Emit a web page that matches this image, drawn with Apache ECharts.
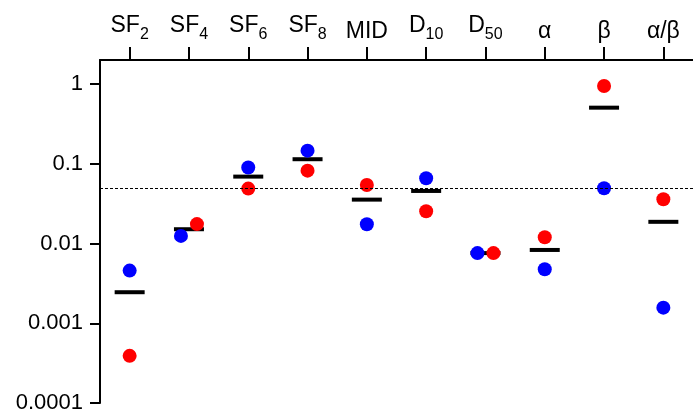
<!DOCTYPE html>
<html>
<head>
<meta charset="utf-8">
<script src="https://cdn.jsdelivr.net/npm/echarts@6/dist/echarts.min.js"></script>
<style>
  html, body { margin: 0; padding: 0; background: #fff; overflow: hidden; }
  #chart { width: 693px; height: 414px; }
</style>
</head>
<body>
<div id="chart"></div>
<script>
// parameter names: main text + subscript
var labelMain = ['SF', 'SF', 'SF', 'SF', 'MID', 'D', 'D', 'α', 'β', 'α/β'];
var labelSub = ['2', '4', '6', '8', '', '10', '50', '', '', ''];
var categories = ['SF2', 'SF4', 'SF6', 'SF8', 'MID', 'D10', 'D50', 'α', 'β', 'α/β'];

// p-values
var redValues = [0.00039, 0.0175, 0.0488, 0.082, 0.0542, 0.0254, 0.00758, 0.012, 0.944, 0.0359];
var blueValues = [0.00457, 0.01245, 0.0899, 0.146, 0.01745, 0.0658, 0.00758, 0.00476, 0.0493, 0.00157];
var meanValues = [0.00245, 0.0151, 0.069, 0.114, 0.0355, 0.0456, 0.00758, 0.0083, 0.505, 0.0187];

var threshold = 0.05;
var yTicks = [0.0001, 0.001, 0.01, 0.1, 1];
var yTickLabels = ['0.0001', '0.001', '0.01', '0.1', '1'];

var font = '"Liberation Sans", Arial, sans-serif';

// push red/blue apart sideways when the two dots would overlap
function tooClose(i) {
    return Math.abs(Math.log10(redValues[i]) - Math.log10(blueValues[i])) < 0.2;
}

var redData = redValues.map(function (v, i) {
    return { value: [categories[i], v], symbolOffset: tooClose(i) ? [8, 0] : [0, 0] };
});
var blueData = blueValues.map(function (v, i) {
    return { value: [categories[i], v], symbolOffset: tooClose(i) ? [-8, 0] : [0, 0] };
});
var meanData = meanValues.map(function (v, i) { return [categories[i], v]; });

var myChart = echarts.init(document.getElementById('chart'), null, { renderer: 'canvas' });
var option = {
    animation: false,
    grid: { left: 100, right: -7, top: 60, bottom: 11 },
    xAxis: {
        type: 'category',
        position: 'top',
        data: categories,
        boundaryGap: true,
        axisLine: { show: true, lineStyle: { color: '#000', width: 2 } },
        axisTick: { show: true, inside: false, interval: 0, alignWithLabel: true, length: 13, lineStyle: { color: '#000', width: 2 } },
        axisLabel: {
            margin: 17,
            interval: 0,
            fontFamily: font,
            color: '#000',
            formatter: function (value, idx) {
                if (labelSub[idx]) return '{b|' + labelMain[idx] + '}{s|' + labelSub[idx] + '}';
                return '{p|' + labelMain[idx] + '}';
            },
            rich: {
                b: { fontSize: 23, fontFamily: font, color: '#000', padding: [0, 0, 6, 0], verticalAlign: 'bottom' },
                s: { fontSize: 16, fontFamily: font, color: '#000', verticalAlign: 'bottom' },
                p: { fontSize: 23, fontFamily: font, color: '#000', verticalAlign: 'bottom' }
            }
        },
        splitLine: { show: false }
    },
    yAxis: {
        type: 'log',
        logBase: 10,
        min: 0.0001,
        max: 2,
        axisLine: { show: true, lineStyle: { color: '#000', width: 2 } },
        axisTick: { show: true, length: 10, customValues: yTicks, lineStyle: { color: '#000', width: 2 } },
        axisLabel: {
            margin: 17,
            fontSize: 22,
            fontFamily: font,
            color: '#000',
            customValues: yTicks,
            formatter: function (v) {
                for (var i = 0; i < yTicks.length; i++) {
                    if (Math.abs(Math.log10(v) - Math.log10(yTicks[i])) < 1e-6) return yTickLabels[i];
                }
                return '';
            }
        },
        splitLine: { show: false },
        minorTick: { show: false }
    },
    series: [
        {
            name: 'mean',
            type: 'scatter',
            symbol: 'rect',
            symbolSize: [30, 4],
            itemStyle: { color: '#000', opacity: 1 },
            data: meanData,
            z: 2,
            markLine: {
                silent: true,
                symbol: ['none', 'none'],
                label: { show: false },
                lineStyle: { color: '#000', width: 1, type: [3, 2], opacity: 1 },
                data: [{ yAxis: threshold }]
            }
        },
        {
            name: 'red',
            type: 'scatter',
            symbol: 'circle',
            symbolSize: 14,
            itemStyle: { color: '#ff0000', opacity: 1 },
            data: redData,
            z: 3
        },
        {
            name: 'blue',
            type: 'scatter',
            symbol: 'circle',
            symbolSize: 14,
            itemStyle: { color: '#0000ff', opacity: 1 },
            data: blueData,
            z: 3
        }
    ]
};
myChart.setOption(option);
</script>
</body>
</html>
